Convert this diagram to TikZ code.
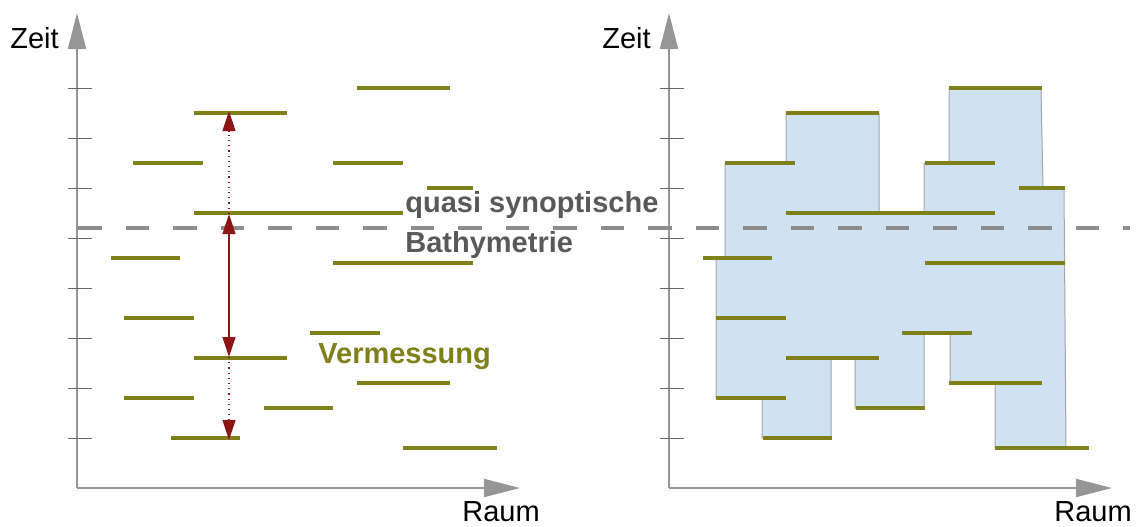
\documentclass[tikz,border=0pt]{standalone}
\usepackage{fontspec}
\setmainfont{Liberation Sans}
\usetikzlibrary{arrows.meta}

\definecolor{oliv}{RGB}{128,128,26}
\definecolor{dunkelrot}{RGB}{140,20,20}
\definecolor{achsgrau}{RGB}{150,150,150}
\definecolor{strichgrau}{RGB}{140,140,140}
\definecolor{textgrau}{RGB}{88,89,91}
\definecolor{hellblau}{RGB}{207,226,243}

\begin{document}
\begin{tikzpicture}[x=0.5pt, y=-0.5pt,
	achse/.style={line width=1pt, achsgrau, -{Triangle[length=18pt, width=9pt]}},
	strich/.style={line width=0.5pt, gray!80!black},
	messung/.style={line width=2.2pt, oliv},
	pfeil/.style={line width=0.6pt, dunkelrot, >={Triangle[length=10pt, width=6.5pt]}},
	beschriftung/.style={inner sep=0pt, anchor=base west, font=\fontsize{14.5pt}{17pt}\selectfont},
]
	\useasboundingbox (0,0) rectangle (1136,526);

	%% Blaue Flaeche (rechtes Bild)
	\draw [line width=0.5pt, gray!70, fill=hellblau] (725,163)
		-- (786,163) -- (786,113) -- (879,113) -- (879,213) -- (924,213)
		-- (924,163) -- (949,163) -- (949,88) -- (1041,88) -- (1043,188)
		-- (1064,188) -- (1066,448) -- (995,448) -- (995,383) -- (950,383)
		-- (950,333) -- (924,333) -- (924,408) -- (855,408) -- (855,358)
		-- (831,358) -- (831,438) -- (762,438) -- (762,398) -- (716,398)
		-- (716,258) -- (725,258) -- cycle
	;

	%% Achsen, Striche und Messungen, links und rechts
	\foreach \dx/\n in {0/l, 592/r} {
		\coordinate (ursprung\n) at (77+\dx,488);
		\draw [achse] (ursprung\n) -- ++(0,-475);
		\draw [achse] (ursprung\n) -- ++(443,0);
		\foreach \y in {88,138,...,438}
			\draw [strich] (68+\dx,\y) -- (92+\dx,\y);
		\foreach \y/\a/\b in {88/357/450, 113/194/287, 163/133/203, 163/333/403,
				188/427/473, 213/194/403, 258/111/180, 263/333/473, 318/124/194,
				333/310/380, 358/194/287, 383/357/450, 398/124/194, 408/264/333,
				438/171/240, 448/403/497}
			\draw [messung] (\a+\dx,\y) -- (\b+\dx,\y);
		\node [beschriftung] (zeit\n) at (10+\dx,48) {Zeit};
		\node [beschriftung] (raum\n) at (462+\dx,521) {Raum};
	}

	%% Gestrichelte Linie
	\draw [line width=2pt, strichgrau, dash pattern=on 11.75pt off 12pt] (78,228) -- (1130,228);

	%% Texte
	\node [beschriftung, align=left, text=textgrau,
		font=\fontsize{14.5pt}{20pt}\selectfont\bfseries] (synoptisch) at (405,252)
		{quasi synoptische\\Bathymetrie};
	\node [beschriftung, text=oliv, font=\fontsize{14.5pt}{17pt}\selectfont\bfseries]
		(vermessung) at (318,363) {Vermessung};

	%% Rote Pfeile
	\coordinate (oben) at (229,111);
	\coordinate (mitte) at (229,214);
	\coordinate (unten) at (229,357);
	\coordinate (ende) at (229,440);
	\draw [pfeil, ->, dotted] (mitte) -- (oben);
	\draw [pfeil, <->] (mitte) -- (unten);
	\draw [pfeil, ->, dotted] (unten) -- (ende);
\end{tikzpicture}
\end{document}
